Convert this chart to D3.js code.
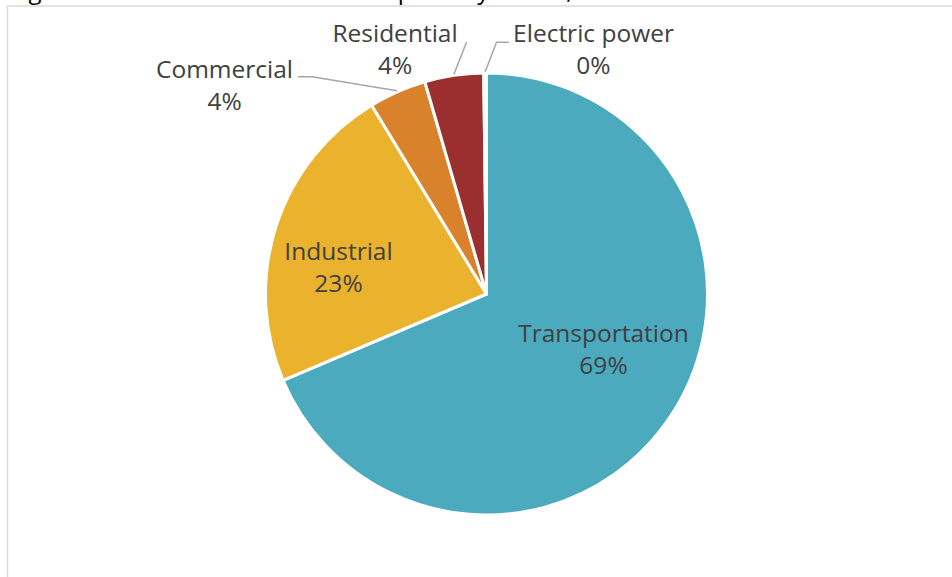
<!DOCTYPE html>
<html>
<head>
<meta charset="utf-8">
<script src="https://cdn.jsdelivr.net/npm/d3@7"></script>
<style>
  html, body { margin: 0; padding: 0; background: #ffffff; }
  svg { display: block; }
</style>
</head>
<body>
<svg id="chart" width="952" height="577"></svg>
<script>
// Distillate consumption shares by sector (percent of U.S. total)
const sectors = ["Transportation", "Industrial", "Commercial", "Residential", "Electric power"];
const shares = [68.6, 22.7, 4.2, 4.3, 0.2];
const sliceColors = ["#4caabf", "#ebb32d", "#d9822b", "#9b2e2f", "#e8e8e8"];
const titleText = "Figure 5. Distillate Fuel Oil Consumption by Sector, U.S. Total";

const width = 952, height = 577;
const cx = 486.5, cy = 294, radius = 221;
const labelFont = "'Open Sans', 'Liberation Sans', sans-serif";
const textColor = "#404040";
const leaderColor = "#a6a6a6";

const svg = d3.select("#chart");

// Figure title (sits mostly above the visible area)
svg.append("text")
  .attr("x", 10)
  .attr("y", -1.5)
  .attr("font-family", labelFont)
  .attr("font-size", 24)
  .attr("fill", "#000000")
  .text(titleText);

// Chart area frame
svg.append("rect")
  .attr("x", 7.5)
  .attr("y", 6)
  .attr("width", width + 10)
  .attr("height", height + 10)
  .attr("fill", "#ffffff")
  .attr("stroke", "#d9d9d9")
  .attr("stroke-width", 1.5);

const data = sectors.map((name, i) => ({ name, value: shares[i], color: sliceColors[i] }));

const pie = d3.pie()
  .value(d => d.value)
  .sort(null)
  .startAngle(0)
  .endAngle(2 * Math.PI);

const arcs = pie(data);
const arc = d3.arc().innerRadius(0).outerRadius(radius);

const g = svg.append("g").attr("transform", `translate(${cx},${cy})`);

g.selectAll("path.slice")
  .data(arcs)
  .join("path")
  .attr("class", "slice")
  .attr("d", arc)
  .attr("fill", d => d.data.color)
  .attr("stroke", "#ffffff")
  .attr("stroke-width", 3)
  .attr("stroke-linejoin", "round");

// Label placement per sector: text center (x, baseline) relative to the pie center,
// and elbow points for the leader line of labels placed outside.
const labelLayout = {
  "Transportation": { x: 117, y: 48, inside: true },
  "Industrial":     { x: -148, y: -34, inside: true },
  "Commercial":     { x: -262, y: -216, elbow: [[-188.5, -217.3], [-174.5, -217.3]] },
  "Residential":    { x: -91.5, y: -252, elbow: [[-20, -251.7]] },
  "Electric power": { x: 107, y: -252, elbow: [[22.5, -251.7], [10, -251.7]] }
};

const fmt = v => Math.round(v) + "%";

// Leader lines from the label to the rim at the slice's mid-angle
arcs.forEach(a => {
  const lay = labelLayout[a.data.name];
  if (lay.inside) return;
  const mid = (a.startAngle + a.endAngle) / 2;
  const rim = [Math.sin(mid) * (radius + 1), -Math.cos(mid) * (radius + 1)];
  const pts = lay.elbow.concat([rim]);
  g.append("path")
    .attr("d", d3.line()(pts))
    .attr("fill", "none")
    .attr("stroke", leaderColor)
    .attr("stroke-width", 1.5);
});

// Category and percentage labels
arcs.forEach(a => {
  const lay = labelLayout[a.data.name];
  const t = g.append("text")
    .attr("text-anchor", "middle")
    .attr("font-family", labelFont)
    .attr("font-size", 24.5)
    .attr("fill", textColor);
  t.append("tspan").attr("x", lay.x).attr("y", lay.y).text(a.data.name);
  t.append("tspan").attr("x", lay.x).attr("y", lay.y + 31.5).text(fmt(a.data.value));
});
</script>
</body>
</html>
